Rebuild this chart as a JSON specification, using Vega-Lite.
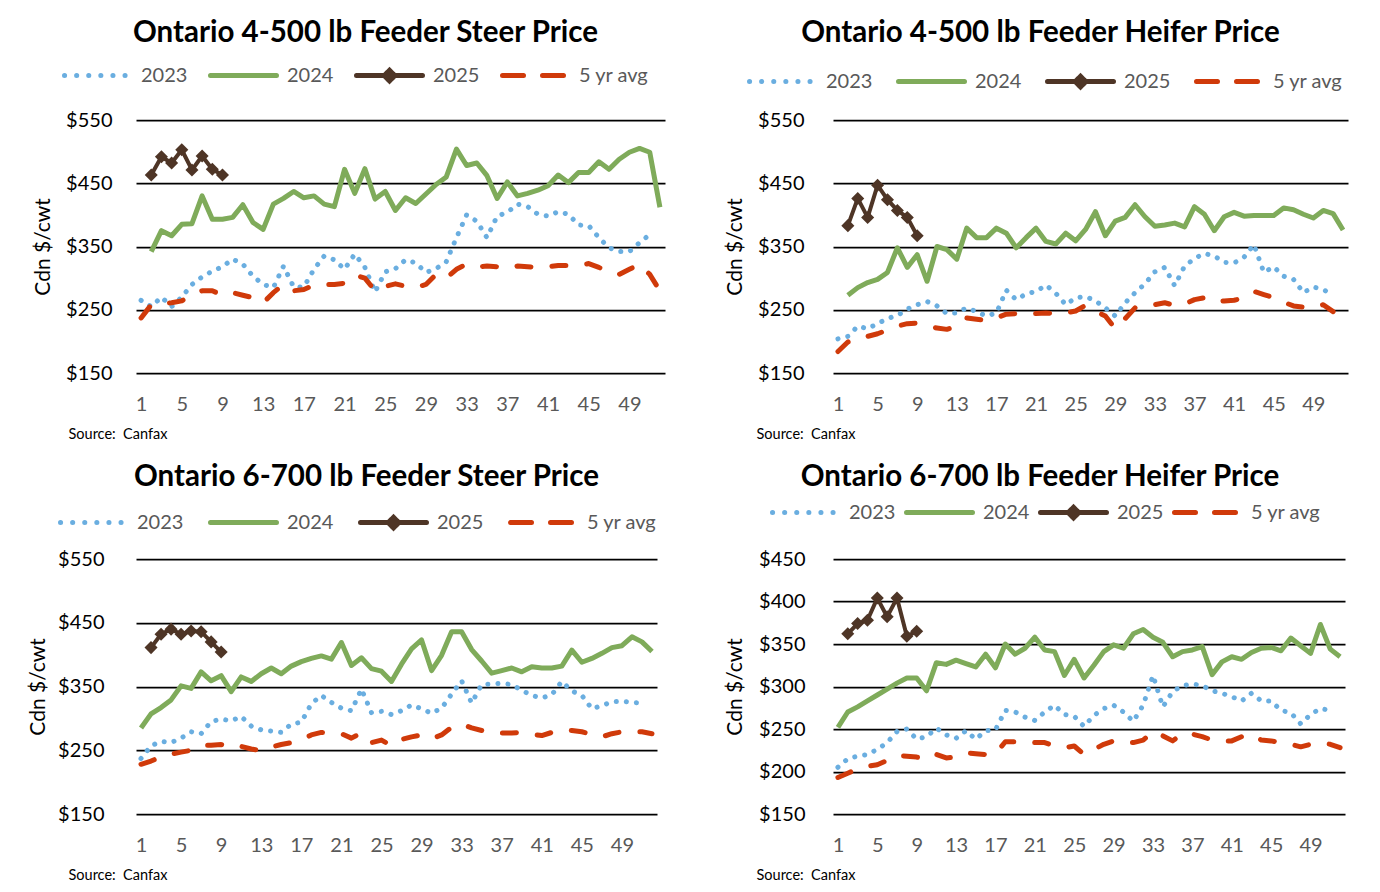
{
  "$schema": "https://vega.github.io/schema/vega-lite/v6.json",
  "padding": {"left": 26, "top": 18, "right": 5, "bottom": 5},
  "autosize": {"type": "pad"},
  "datasets": {
    "p1": [
      {"week":1,"2023":265,"5 yr avg":237},
      {"week":2,"2023":255,"2024":342,"2025":463,"5 yr avg":258},
      {"week":3,"2023":270,"2024":375,"2025":492,"5 yr avg":260},
      {"week":4,"2023":255,"2024":367,"2025":482,"5 yr avg":261},
      {"week":5,"2023":270,"2024":385,"2025":503,"5 yr avg":264},
      {"week":6,"2023":290,"2024":386,"2025":471,"5 yr avg":274},
      {"week":7,"2023":302,"2024":430,"2025":493,"5 yr avg":280},
      {"week":8,"2023":311,"2024":393,"2025":472,"5 yr avg":280},
      {"week":9,"2023":318,"2024":393,"2025":463,"5 yr avg":273},
      {"week":10,"2023":330,"2024":396,"5 yr avg":277},
      {"week":11,"2023":322,"2024":416,"5 yr avg":273},
      {"week":12,"2023":303,"2024":388,"5 yr avg":269},
      {"week":13,"2023":290,"2024":377,"5 yr avg":261},
      {"week":14,"2023":285,"2024":417,"5 yr avg":277},
      {"week":15,"2023":319,"2024":426,"5 yr avg":290},
      {"week":16,"2023":286,"2024":437,"5 yr avg":280},
      {"week":17,"2023":286,"2024":427,"5 yr avg":282},
      {"week":18,"2023":314,"2024":430,"5 yr avg":289},
      {"week":19,"2023":335,"2024":417,"5 yr avg":290},
      {"week":20,"2023":329,"2024":413,"5 yr avg":290},
      {"week":21,"2023":314,"2024":472,"5 yr avg":292},
      {"week":22,"2023":338,"2024":434,"5 yr avg":305},
      {"week":23,"2023":317,"2024":473,"5 yr avg":300},
      {"week":24,"2023":278,"2024":425,"5 yr avg":280},
      {"week":25,"2023":310,"2024":437,"5 yr avg":287},
      {"week":26,"2023":315,"2024":407,"5 yr avg":291},
      {"week":27,"2023":329,"2024":427,"5 yr avg":287},
      {"week":28,"2023":324,"2024":418,"5 yr avg":285},
      {"week":29,"2023":309,"2024":433,"5 yr avg":290},
      {"week":30,"2023":315,"2024":448,"5 yr avg":306},
      {"week":31,"2023":326,"2024":460,"5 yr avg":300},
      {"week":32,"2023":364,"2024":504,"5 yr avg":314},
      {"week":33,"2023":400,"2024":478,"5 yr avg":322},
      {"week":34,"2023":390,"2024":482,"5 yr avg":318},
      {"week":35,"2023":364,"2024":462,"5 yr avg":319},
      {"week":36,"2023":398,"2024":426,"5 yr avg":318},
      {"week":37,"2023":404,"2024":452,"5 yr avg":315},
      {"week":38,"2023":417,"2024":430,"5 yr avg":319},
      {"week":39,"2023":413,"2024":434,"5 yr avg":318},
      {"week":40,"2023":401,"2024":439,"5 yr avg":317},
      {"week":41,"2023":398,"2024":446,"5 yr avg":318},
      {"week":42,"2023":405,"2024":463,"5 yr avg":320},
      {"week":43,"2023":401,"2024":451,"5 yr avg":320},
      {"week":44,"2023":384,"2024":467,"5 yr avg":320},
      {"week":45,"2023":383,"2024":467,"5 yr avg":323},
      {"week":46,"2023":364,"2024":484,"5 yr avg":317},
      {"week":47,"2023":348,"2024":472,"5 yr avg":309},
      {"week":48,"2023":342,"2024":488,"5 yr avg":306},
      {"week":49,"2023":342,"2024":499,"5 yr avg":314},
      {"week":50,"2023":356,"2024":505,"5 yr avg":322},
      {"week":51,"2023":369,"2024":499,"5 yr avg":306},
      {"week":52,"2024":412,"5 yr avg":280}
    ],
    "p2": [
      {"week":1,"2023":204,"5 yr avg":184},
      {"week":2,"2023":208,"2024":273,"2025":383,"5 yr avg":199},
      {"week":3,"2023":224,"2024":285,"2025":426,"5 yr avg":206},
      {"week":4,"2023":220,"2024":293,"2025":396,"5 yr avg":208},
      {"week":5,"2023":228,"2024":298,"2025":447,"5 yr avg":212},
      {"week":6,"2023":236,"2024":309,"2025":424,"5 yr avg":218},
      {"week":7,"2023":241,"2024":348,"2025":407,"5 yr avg":224},
      {"week":8,"2023":251,"2024":317,"2025":396,"5 yr avg":228},
      {"week":9,"2023":258,"2024":337,"2025":367,"5 yr avg":229},
      {"week":10,"2023":263,"2024":295,"5 yr avg":225},
      {"week":11,"2023":256,"2024":350,"5 yr avg":221},
      {"week":12,"2023":244,"2024":345,"5 yr avg":219},
      {"week":13,"2023":245,"2024":330,"5 yr avg":224},
      {"week":14,"2023":253,"2024":379,"5 yr avg":237},
      {"week":15,"2023":247,"2024":364,"5 yr avg":235},
      {"week":16,"2023":240,"2024":364,"5 yr avg":233},
      {"week":17,"2023":245,"2024":379,"5 yr avg":237},
      {"week":18,"2023":281,"2024":371,"5 yr avg":243},
      {"week":19,"2023":266,"2024":348,"5 yr avg":244},
      {"week":20,"2023":275,"2024":364,"5 yr avg":245},
      {"week":21,"2023":279,"2024":379,"5 yr avg":244},
      {"week":22,"2023":289,"2024":358,"5 yr avg":245},
      {"week":23,"2023":276,"2024":354,"5 yr avg":244},
      {"week":24,"2023":258,"2024":371,"5 yr avg":245},
      {"week":25,"2023":269,"2024":359,"5 yr avg":248},
      {"week":26,"2023":271,"2024":377,"5 yr avg":257},
      {"week":27,"2023":264,"2024":405,"5 yr avg":248},
      {"week":28,"2023":253,"2024":367,"5 yr avg":240},
      {"week":29,"2023":240,"2024":390,"5 yr avg":220},
      {"week":30,"2023":261,"2024":396,"5 yr avg":236},
      {"week":31,"2023":277,"2024":416,"5 yr avg":253},
      {"week":32,"2023":291,"2024":397,"5 yr avg":254},
      {"week":33,"2023":310,"2024":382,"5 yr avg":258},
      {"week":34,"2023":317,"2024":384,"5 yr avg":261},
      {"week":35,"2023":288,"2024":387,"5 yr avg":257},
      {"week":36,"2023":319,"2024":381,"5 yr avg":259},
      {"week":37,"2023":331,"2024":413,"5 yr avg":266},
      {"week":38,"2023":339,"2024":401,"5 yr avg":269},
      {"week":39,"2023":335,"2024":375,"5 yr avg":262},
      {"week":40,"2023":325,"2024":397,"5 yr avg":264},
      {"week":41,"2023":324,"2024":404,"5 yr avg":265},
      {"week":42,"2023":333,"2024":398,"5 yr avg":269},
      {"week":43,"2023":353,"2024":399,"5 yr avg":279},
      {"week":44,"2023":309,"2024":399,"5 yr avg":274},
      {"week":45,"2023":318,"2024":399,"5 yr avg":269},
      {"week":46,"2023":303,"2024":411,"5 yr avg":262},
      {"week":47,"2023":298,"2024":408,"5 yr avg":256},
      {"week":48,"2023":277,"2024":401,"5 yr avg":254},
      {"week":49,"2023":286,"2024":395,"5 yr avg":253},
      {"week":50,"2023":282,"2024":407,"5 yr avg":258},
      {"week":51,"2023":273,"2024":402,"5 yr avg":247},
      {"week":52,"2024":376}
    ],
    "p3": [
      {"week":1,"2023":237,"2024":285,"5 yr avg":228},
      {"week":2,"2023":257,"2024":307,"2025":411,"5 yr avg":233},
      {"week":3,"2023":264,"2024":317,"2025":432,"5 yr avg":240},
      {"week":4,"2023":262,"2024":329,"2025":440,"5 yr avg":244},
      {"week":5,"2023":269,"2024":351,"2025":432,"5 yr avg":247},
      {"week":6,"2023":279,"2024":347,"2025":437,"5 yr avg":250},
      {"week":7,"2023":276,"2024":373,"2025":436,"5 yr avg":258},
      {"week":8,"2023":295,"2024":359,"2025":420,"5 yr avg":258},
      {"week":9,"2023":299,"2024":367,"2025":404,"5 yr avg":259},
      {"week":10,"2023":296,"2024":342,"5 yr avg":254},
      {"week":11,"2023":303,"2024":365,"5 yr avg":256},
      {"week":12,"2023":288,"2024":358,"5 yr avg":252},
      {"week":13,"2023":282,"2024":370,"5 yr avg":249},
      {"week":14,"2023":280,"2024":379,"5 yr avg":255},
      {"week":15,"2023":278,"2024":370,"5 yr avg":259},
      {"week":16,"2023":291,"2024":382,"5 yr avg":262},
      {"week":17,"2023":294,"2024":389,"5 yr avg":266},
      {"week":18,"2023":323,"2024":394,"5 yr avg":274},
      {"week":19,"2023":336,"2024":398,"5 yr avg":278},
      {"week":20,"2023":325,"2024":393,"5 yr avg":277},
      {"week":21,"2023":316,"2024":419,"5 yr avg":276},
      {"week":22,"2023":312,"2024":383,"5 yr avg":269},
      {"week":23,"2023":346,"2024":395,"5 yr avg":277},
      {"week":24,"2023":309,"2024":378,"5 yr avg":262},
      {"week":25,"2023":311,"2024":374,"5 yr avg":266},
      {"week":26,"2023":306,"2024":358,"5 yr avg":257},
      {"week":27,"2023":312,"2024":385,"5 yr avg":267},
      {"week":28,"2023":321,"2024":409,"5 yr avg":271},
      {"week":29,"2023":315,"2024":423,"5 yr avg":274},
      {"week":30,"2023":308,"2024":375,"5 yr avg":268},
      {"week":31,"2023":316,"2024":399,"5 yr avg":274},
      {"week":32,"2023":338,"2024":436,"5 yr avg":286},
      {"week":33,"2023":359,"2024":436,"5 yr avg":291},
      {"week":34,"2023":324,"2024":408,"5 yr avg":285},
      {"week":35,"2023":353,"2024":390,"5 yr avg":281},
      {"week":36,"2023":354,"2024":371,"5 yr avg":277},
      {"week":37,"2023":355,"2024":375,"5 yr avg":277},
      {"week":38,"2023":353,"2024":379,"5 yr avg":277},
      {"week":39,"2023":344,"2024":373,"5 yr avg":278},
      {"week":40,"2023":336,"2024":381,"5 yr avg":275},
      {"week":41,"2023":332,"2024":379,"5 yr avg":273},
      {"week":42,"2023":337,"2024":379,"5 yr avg":278},
      {"week":43,"2023":358,"2024":382,"5 yr avg":282},
      {"week":44,"2023":343,"2024":407,"5 yr avg":281},
      {"week":45,"2023":336,"2024":388,"5 yr avg":279},
      {"week":46,"2023":315,"2024":394,"5 yr avg":275},
      {"week":47,"2023":320,"2024":402,"5 yr avg":271},
      {"week":48,"2023":326,"2024":411,"5 yr avg":276},
      {"week":49,"2023":327,"2024":414,"5 yr avg":279},
      {"week":50,"2023":325,"2024":428,"5 yr avg":279},
      {"week":51,"2023":324,"2024":420,"5 yr avg":279},
      {"week":52,"2024":405,"5 yr avg":276}
    ],
    "p4": [
      {"week":1,"2023":205,"2024":252,"5 yr avg":193},
      {"week":2,"2023":215,"2024":270,"2025":362,"5 yr avg":198},
      {"week":3,"2023":218,"2024":276,"2025":374,"5 yr avg":203},
      {"week":4,"2023":220,"2024":283,"2025":378,"5 yr avg":206},
      {"week":5,"2023":226,"2024":290,"2025":404,"5 yr avg":208},
      {"week":6,"2023":234,"2024":297,"2025":382,"5 yr avg":213},
      {"week":7,"2023":247,"2024":304,"2025":404,"5 yr avg":219},
      {"week":8,"2023":250,"2024":310,"2025":359,"5 yr avg":218},
      {"week":9,"2023":238,"2024":310,"2025":365,"5 yr avg":217},
      {"week":10,"2023":241,"2024":295,"5 yr avg":214},
      {"week":11,"2023":251,"2024":328,"5 yr avg":220},
      {"week":12,"2023":243,"2024":326,"5 yr avg":216},
      {"week":13,"2023":239,"2024":331,"5 yr avg":217},
      {"week":14,"2023":248,"2024":327,"5 yr avg":222},
      {"week":15,"2023":238,"2024":323,"5 yr avg":221},
      {"week":16,"2023":248,"2024":338,"5 yr avg":220},
      {"week":17,"2023":249,"2024":322,"5 yr avg":221},
      {"week":18,"2023":272,"2024":350,"5 yr avg":235},
      {"week":19,"2023":270,"2024":338,"5 yr avg":235},
      {"week":20,"2023":264,"2024":345,"5 yr avg":235},
      {"week":21,"2023":260,"2024":358,"5 yr avg":234},
      {"week":22,"2023":270,"2024":343,"5 yr avg":234},
      {"week":23,"2023":278,"2024":341,"5 yr avg":230},
      {"week":24,"2023":267,"2024":313,"5 yr avg":228},
      {"week":25,"2023":265,"2024":332,"5 yr avg":230},
      {"week":26,"2023":253,"2024":310,"5 yr avg":220},
      {"week":27,"2023":266,"2024":325,"5 yr avg":226},
      {"week":28,"2023":274,"2024":341,"5 yr avg":232},
      {"week":29,"2023":278,"2024":349,"5 yr avg":236},
      {"week":30,"2023":270,"2024":345,"5 yr avg":234},
      {"week":31,"2023":259,"2024":362,"5 yr avg":234},
      {"week":32,"2023":278,"2024":367,"5 yr avg":237},
      {"week":33,"2023":313,"2024":358,"5 yr avg":247},
      {"week":34,"2023":276,"2024":352,"5 yr avg":242},
      {"week":35,"2023":294,"2024":335,"5 yr avg":236},
      {"week":36,"2023":301,"2024":341,"5 yr avg":245},
      {"week":37,"2023":303,"2024":343,"5 yr avg":244},
      {"week":38,"2023":301,"2024":347,"5 yr avg":241},
      {"week":39,"2023":295,"2024":314,"5 yr avg":237},
      {"week":40,"2023":292,"2024":329,"5 yr avg":236},
      {"week":41,"2023":288,"2024":335,"5 yr avg":236},
      {"week":42,"2023":283,"2024":332,"5 yr avg":241},
      {"week":43,"2023":292,"2024":340,"5 yr avg":244},
      {"week":44,"2023":283,"2024":345,"5 yr avg":237},
      {"week":45,"2023":283,"2024":346,"5 yr avg":236},
      {"week":46,"2023":272,"2024":342,"5 yr avg":234},
      {"week":47,"2023":269,"2024":357,"5 yr avg":232},
      {"week":48,"2023":256,"2024":348,"5 yr avg":229},
      {"week":49,"2023":267,"2024":339,"5 yr avg":232},
      {"week":50,"2023":274,"2024":373,"5 yr avg":234},
      {"week":51,"2023":272,"2024":344,"5 yr avg":232},
      {"week":52,"2024":335,"5 yr avg":228}
    ]
  },
  "concat": [
    {
      "width": 529, "height": 253,
      "title": {"text": "Ontario 4-500 lb Feeder Steer Price", "dx": -35, "offset": -8.5, "frame": "group"},
      "data": {"name": "p1"},
      "transform": [{"fold": ["2023", "2024", "2025", "5 yr avg"], "as": ["series", "price"]}, {"filter": "isValid(datum.price)"}],
      "encoding": {
        "x": {"field": "week", "type": "quantitative", "scale": {"domain": [0.5, 52.5], "nice": false, "zero": false},
          "axis": {"values": [1,5,9,13,17,21,25,29,33,37,41,45,49], "grid": false, "labelFontSize": 20, "labelColor": "#595959", "labelPadding": 21, "title": "Source: \u00a0Canfax", "titleFontSize": 14.5, "titleFontWeight": "normal", "titleAlign": "left", "titleAnchor": "start", "titleX": -68, "titleY": 61, "titleBaseline": "middle"}},
        "y": {"field": "price", "type": "quantitative", "scale": {"domain": [150, 550], "nice": false, "zero": false},
          "axis": {"values": [150,250,350,450,550], "format": "$.0f", "labelFontSize": 20, "labelColor": "#000000", "labelPadding": 24, "gridColor": "#000000", "gridWidth": 1.75, "title": "Cdn $/cwt", "titleFontSize": 21, "titleFontWeight": "normal", "titleX": -93, "titleBaseline": "middle"}}
      },
      "layer": [
        {"transform": [{"filter": "datum.series == '2023'"}], "mark": {"type": "line", "strokeWidth": 5, "strokeCap": "round", "strokeDash": [0.1, 10]},
         "encoding": {"color": {"field": "series", "type": "nominal", "scale": {"domain": ["2023", "2024", "2025", "5 yr avg"], "range": ["#6aaee0", "#7fab5a", "#4e3526", "#d03a0a"]},
           "legend": {"orient": "none", "legendX": -74, "legendY": -80, "direction": "horizontal", "title": null, "symbolType": "stroke", "symbolSize": 4356, "symbolStrokeWidth": 5, "labelFontSize": 20, "labelColor": "#595959", "labelOffset": 8, "columnPadding": 12,
             "encode": {"symbols": {"update": {"shape": {"signal": "datum.value === '2025' ? 'M-1,0L1,0M0,-0.16L0.16,0L0,0.16L-0.16,0Z' : 'M0,-0.16M0,0.16M-1,0L1,0'"}, "fill": {"signal": "datum.value === '2025' ? '#4e3526' : 'transparent'"}, "strokeDash": {"signal": "datum.value === '2023' ? [0.1, 12] : datum.value === '5 yr avg' ? [21, 19] : [1, 0]"}, "strokeCap": {"value": "round"}}}}}}}},
        {"transform": [{"filter": "datum.series == '2024'"}], "mark": {"type": "line", "strokeWidth": 5, "strokeJoin": "round"}, "encoding": {"color": {"field": "series", "type": "nominal"}}},
        {"transform": [{"filter": "datum.series == '2025'"}], "mark": {"type": "line", "strokeWidth": 4, "strokeJoin": "round"}, "encoding": {"color": {"field": "series", "type": "nominal"}}},
        {"transform": [{"filter": "datum.series == '2025'"}], "mark": {"type": "point", "shape": "diamond", "filled": true, "size": 170, "opacity": 1, "color": "#4e3526"}},
        {"transform": [{"filter": "datum.series == '5 yr avg'"}], "mark": {"type": "line", "strokeWidth": 5, "strokeCap": "round", "strokeJoin": "round", "strokeDash": [14, 21]}, "encoding": {"color": {"field": "series", "type": "nominal"}}}
      ]
    },
    {
      "width": 515, "height": 253,
      "title": {"text": "Ontario 4-500 lb Feeder Heifer Price", "dx": -50, "offset": -2.5, "frame": "group"},
      "data": {"name": "p2"},
      "transform": [{"fold": ["2023", "2024", "2025", "5 yr avg"], "as": ["series", "price"]}, {"filter": "isValid(datum.price)"}],
      "encoding": {
        "x": {"field": "week", "type": "quantitative", "scale": {"domain": [0.5, 52.5], "nice": false, "zero": false},
          "axis": {"values": [1,5,9,13,17,21,25,29,33,37,41,45,49], "grid": false, "labelFontSize": 20, "labelColor": "#595959", "labelPadding": 21, "title": "Source: \u00a0Canfax", "titleFontSize": 14.5, "titleFontWeight": "normal", "titleAlign": "left", "titleAnchor": "start", "titleX": -77, "titleY": 61, "titleBaseline": "middle"}},
        "y": {"field": "price", "type": "quantitative", "scale": {"domain": [150, 550], "nice": false, "zero": false},
          "axis": {"values": [150,250,350,450,550], "format": "$.0f", "labelFontSize": 20, "labelColor": "#000000", "labelPadding": 29, "gridColor": "#000000", "gridWidth": 1.75, "title": "Cdn $/cwt", "titleFontSize": 21, "titleFontWeight": "normal", "titleX": -98, "titleBaseline": "middle"}}
      },
      "layer": [
        {"transform": [{"filter": "datum.series == '2023'"}], "mark": {"type": "line", "strokeWidth": 5, "strokeCap": "round", "strokeDash": [0.1, 10]},
         "encoding": {"color": {"field": "series", "type": "nominal", "scale": {"domain": ["2023", "2024", "2025", "5 yr avg"], "range": ["#6aaee0", "#7fab5a", "#4e3526", "#d03a0a"]},
           "legend": {"orient": "none", "legendX": -86, "legendY": -74, "direction": "horizontal", "title": null, "symbolType": "stroke", "symbolSize": 4356, "symbolStrokeWidth": 5, "labelFontSize": 20, "labelColor": "#595959", "labelOffset": 8, "columnPadding": 15,
             "encode": {"symbols": {"update": {"shape": {"signal": "datum.value === '2025' ? 'M-1,0L1,0M0,-0.16L0.16,0L0,0.16L-0.16,0Z' : 'M0,-0.16M0,0.16M-1,0L1,0'"}, "fill": {"signal": "datum.value === '2025' ? '#4e3526' : 'transparent'"}, "strokeDash": {"signal": "datum.value === '2023' ? [0.1, 12] : datum.value === '5 yr avg' ? [21, 19] : [1, 0]"}, "strokeCap": {"value": "round"}}}}}}}},
        {"transform": [{"filter": "datum.series == '2024'"}], "mark": {"type": "line", "strokeWidth": 5, "strokeJoin": "round"}, "encoding": {"color": {"field": "series", "type": "nominal"}}},
        {"transform": [{"filter": "datum.series == '2025'"}], "mark": {"type": "line", "strokeWidth": 4, "strokeJoin": "round"}, "encoding": {"color": {"field": "series", "type": "nominal"}}},
        {"transform": [{"filter": "datum.series == '2025'"}], "mark": {"type": "point", "shape": "diamond", "filled": true, "size": 170, "opacity": 1, "color": "#4e3526"}},
        {"transform": [{"filter": "datum.series == '5 yr avg'"}], "mark": {"type": "line", "strokeWidth": 5, "strokeCap": "round", "strokeJoin": "round", "strokeDash": [14, 21]}, "encoding": {"color": {"field": "series", "type": "nominal"}}}
      ]
    },
    {
      "width": 521, "height": 255,
      "title": {"text": "Ontario 6-700 lb Feeder Steer Price", "dx": -30, "offset": -5.5, "frame": "group"},
      "data": {"name": "p3"},
      "transform": [{"fold": ["2023", "2024", "2025", "5 yr avg"], "as": ["series", "price"]}, {"filter": "isValid(datum.price)"}],
      "encoding": {
        "x": {"field": "week", "type": "quantitative", "scale": {"domain": [0.5, 52.5], "nice": false, "zero": false},
          "axis": {"values": [1,5,9,13,17,21,25,29,33,37,41,45,49], "grid": false, "labelFontSize": 20, "labelColor": "#595959", "labelPadding": 21, "title": "Source: \u00a0Canfax", "titleFontSize": 14.5, "titleFontWeight": "normal", "titleAlign": "left", "titleAnchor": "start", "titleX": -68, "titleY": 61, "titleBaseline": "middle"}},
        "y": {"field": "price", "type": "quantitative", "scale": {"domain": [150, 550], "nice": false, "zero": false},
          "axis": {"values": [150,250,350,450,550], "format": "$.0f", "labelFontSize": 20, "labelColor": "#000000", "labelPadding": 32, "gridColor": "#000000", "gridWidth": 1.75, "title": "Cdn $/cwt", "titleFontSize": 21, "titleFontWeight": "normal", "titleX": -98, "titleBaseline": "middle"}}
      },
      "layer": [
        {"transform": [{"filter": "datum.series == '2023'"}], "mark": {"type": "line", "strokeWidth": 5, "strokeCap": "round", "strokeDash": [0.1, 10]},
         "encoding": {"color": {"field": "series", "type": "nominal", "scale": {"domain": ["2023", "2024", "2025", "5 yr avg"], "range": ["#6aaee0", "#7fab5a", "#4e3526", "#d03a0a"]},
           "legend": {"orient": "none", "legendX": -78, "legendY": -72, "direction": "horizontal", "title": null, "symbolType": "stroke", "symbolSize": 4356, "symbolStrokeWidth": 5, "labelFontSize": 20, "labelColor": "#595959", "labelOffset": 8, "columnPadding": 16,
             "encode": {"symbols": {"update": {"shape": {"signal": "datum.value === '2025' ? 'M-1,0L1,0M0,-0.16L0.16,0L0,0.16L-0.16,0Z' : 'M0,-0.16M0,0.16M-1,0L1,0'"}, "fill": {"signal": "datum.value === '2025' ? '#4e3526' : 'transparent'"}, "strokeDash": {"signal": "datum.value === '2023' ? [0.1, 12] : datum.value === '5 yr avg' ? [21, 19] : [1, 0]"}, "strokeCap": {"value": "round"}}}}}}}},
        {"transform": [{"filter": "datum.series == '2024'"}], "mark": {"type": "line", "strokeWidth": 5, "strokeJoin": "round"}, "encoding": {"color": {"field": "series", "type": "nominal"}}},
        {"transform": [{"filter": "datum.series == '2025'"}], "mark": {"type": "line", "strokeWidth": 4, "strokeJoin": "round"}, "encoding": {"color": {"field": "series", "type": "nominal"}}},
        {"transform": [{"filter": "datum.series == '2025'"}], "mark": {"type": "point", "shape": "diamond", "filled": true, "size": 170, "opacity": 1, "color": "#4e3526"}},
        {"transform": [{"filter": "datum.series == '5 yr avg'"}], "mark": {"type": "line", "strokeWidth": 5, "strokeCap": "round", "strokeJoin": "round", "strokeDash": [14, 21]}, "encoding": {"color": {"field": "series", "type": "nominal"}}}
      ]
    },
    {
      "width": 512, "height": 255,
      "title": {"text": "Ontario 6-700 lb Feeder Heifer Price", "dx": -49, "offset": -15.5, "frame": "group"},
      "data": {"name": "p4"},
      "transform": [{"fold": ["2023", "2024", "2025", "5 yr avg"], "as": ["series", "price"]}, {"filter": "isValid(datum.price)"}],
      "encoding": {
        "x": {"field": "week", "type": "quantitative", "scale": {"domain": [0.5, 52.5], "nice": false, "zero": false},
          "axis": {"values": [1,5,9,13,17,21,25,29,33,37,41,45,49], "grid": false, "labelFontSize": 20, "labelColor": "#595959", "labelPadding": 21, "title": "Source: \u00a0Canfax", "titleFontSize": 14.5, "titleFontWeight": "normal", "titleAlign": "left", "titleAnchor": "start", "titleX": -77, "titleY": 61, "titleBaseline": "middle"}},
        "y": {"field": "price", "type": "quantitative", "scale": {"domain": [150, 450], "nice": false, "zero": false},
          "axis": {"values": [150,200,250,300,350,400,450], "format": "$.0f", "labelFontSize": 20, "labelColor": "#000000", "labelPadding": 28, "gridColor": "#000000", "gridWidth": 1.75, "title": "Cdn $/cwt", "titleFontSize": 21, "titleFontWeight": "normal", "titleX": -98, "titleBaseline": "middle"}}
      },
      "layer": [
        {"transform": [{"filter": "datum.series == '2023'"}], "mark": {"type": "line", "strokeWidth": 5, "strokeCap": "round", "strokeDash": [0.1, 10]},
         "encoding": {"color": {"field": "series", "type": "nominal", "scale": {"domain": ["2023", "2024", "2025", "5 yr avg"], "range": ["#6aaee0", "#7fab5a", "#4e3526", "#d03a0a"]},
           "legend": {"orient": "none", "legendX": -63, "legendY": -82, "direction": "horizontal", "title": null, "symbolType": "stroke", "symbolSize": 4356, "symbolStrokeWidth": 5, "labelFontSize": 20, "labelColor": "#595959", "labelOffset": 8, "columnPadding": 0,
             "encode": {"symbols": {"update": {"shape": {"signal": "datum.value === '2025' ? 'M-1,0L1,0M0,-0.16L0.16,0L0,0.16L-0.16,0Z' : 'M0,-0.16M0,0.16M-1,0L1,0'"}, "fill": {"signal": "datum.value === '2025' ? '#4e3526' : 'transparent'"}, "strokeDash": {"signal": "datum.value === '2023' ? [0.1, 12] : datum.value === '5 yr avg' ? [21, 19] : [1, 0]"}, "strokeCap": {"value": "round"}}}}}}}},
        {"transform": [{"filter": "datum.series == '2024'"}], "mark": {"type": "line", "strokeWidth": 5, "strokeJoin": "round"}, "encoding": {"color": {"field": "series", "type": "nominal"}}},
        {"transform": [{"filter": "datum.series == '2025'"}], "mark": {"type": "line", "strokeWidth": 4, "strokeJoin": "round"}, "encoding": {"color": {"field": "series", "type": "nominal"}}},
        {"transform": [{"filter": "datum.series == '2025'"}], "mark": {"type": "point", "shape": "diamond", "filled": true, "size": 170, "opacity": 1, "color": "#4e3526"}},
        {"transform": [{"filter": "datum.series == '5 yr avg'"}], "mark": {"type": "line", "strokeWidth": 5, "strokeCap": "round", "strokeJoin": "round", "strokeDash": [14, 21]}, "encoding": {"color": {"field": "series", "type": "nominal"}}}
      ]
    }
  ],
  "columns": 2,
  "align": "all",
  "spacing": {"row": 184, "column": 168},
  "bounds": "flush",
  "resolve": {"scale": {"color": "independent", "x": "independent", "y": "independent"}, "legend": {"color": "independent"}},
  "config": {
    "font": "Lato",
    "view": {"stroke": null},
    "axis": {"domain": false, "ticks": false, "tickSize": 0, "labelFont": "Lato", "titleFont": "Lato", "titleColor": "#000000"},
    "legend": {"labelFont": "Lato", "labelLimit": 300},
    "title": {"font": "Lato", "fontSize": 29.5, "fontWeight": "bold", "color": "#000000"}
  }
}
